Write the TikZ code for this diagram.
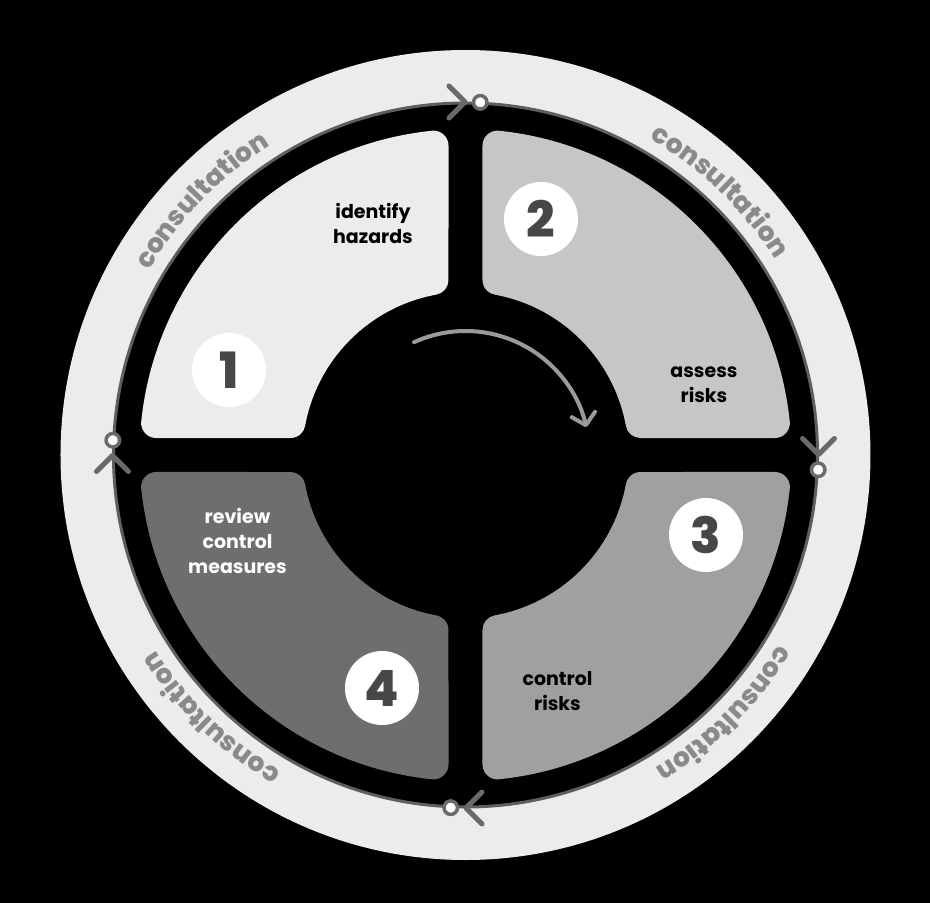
\documentclass[tikz,border=0pt]{standalone}
\usepackage{fontspec}
\setmainfont{Poppins}
\newfontfamily\heavyfont{Poppins ExtraBold}
\usetikzlibrary{decorations.text,arrows.meta}
\definecolor{ringlight}{HTML}{ECECEC}
\definecolor{secA}{HTML}{ECECEC}
\definecolor{secB}{HTML}{C6C6C6}
\definecolor{secC}{HTML}{A0A0A0}
\definecolor{secD}{HTML}{6E6E6E}
\definecolor{trackline}{HTML}{5E5E5E}
\definecolor{markgray}{HTML}{6A6A6A}
\definecolor{consgray}{HTML}{8A8A8A}
\definecolor{digitgray}{HTML}{474747}
\definecolor{arrowgray}{HTML}{9A9A9A}
\newcommand\consfont{\color{consgray}\heavyfont\fontsize{26.5}{26.5}\selectfont}
\tikzset{
  sector/.style={fill=#1, draw=#1, line width=30pt, line join=round},
  pics/quarter/.style={code={
    \path[sector=#1] (32pt,175.10pt) -- (84.094:311pt)
      arc[start angle=84.094, end angle=5.906, radius=311pt]
      -- (175.10pt,32pt)
      arc[start angle=10.357, end angle=79.643, radius=178pt] -- cycle;}},
  numdisc/.style={circle, fill=white, minimum size=74pt, inner sep=0pt,
    text=digitgray, font=\heavyfont\fontsize{50}{50}\selectfont},
  steplabel/.style={align=center, font=\bfseries\fontsize{19}{25}\selectfont},
  chev/.style={draw=markgray, line width=5pt, line cap=round, line join=round},
  ringdot/.style={circle, fill=white, draw=markgray, line width=3.5pt,
    minimum size=13.5pt, inner sep=0pt},
  ringtext/.style={decorate, decoration={text along path, text align=center,
    text={|\consfont|consultation}}},
}
\begin{document}
\begin{tikzpicture}[x=1pt,y=1pt]
  \useasboundingbox (-465.5,-448) rectangle (464.5,455);
  \fill[black] (-465.5,-448) rectangle (464.5,455);
  % outer ring
  \fill[ringlight] (0,0) circle[radius=405pt];
  \fill[black] (0,0) circle[radius=352pt];
  \draw[trackline, line width=3pt] (0,0) circle[radius=352pt];
  % sectors
  \pic[rotate=90] at (0,0) {quarter=secA};
  \pic at (0,0) {quarter=secB};
  \pic[rotate=-90] at (0,0) {quarter=secC};
  \pic[rotate=180] at (0,0) {quarter=secD};
  % consultation texts
  \path[ringtext] (166:366pt) arc[start angle=166, end angle=106, radius=366pt];
  \path[ringtext] (76:366pt) arc[start angle=76, end angle=16, radius=366pt];
  \path[ringtext] (-15:366pt) arc[start angle=-15, end angle=-75, radius=366pt];
  \path[ringtext] (-104:366pt) arc[start angle=-104, end angle=-164, radius=366pt];
  % chevrons and dots on the ring
  \foreach \a in {90,0,-90,180} {
    \begin{scope}[rotate=\a-90]
      \draw[chev] (-16.5pt,369pt) -- (-0.5pt,353pt) -- (-16.5pt,337pt);
      \node[ringdot] (dot\a) at (87.6:353pt) {};
    \end{scope}
  }
  % centre arrow
  \draw[arrowgray, line width=4pt, line cap=round,
    -{Straight Barb[length=11pt,width=24pt,line cap=round,line join=round]}]
    (114.5:124pt) arc[start angle=114.5, end angle=13, radius=124pt];
  % number discs
  \node[numdisc] (n1) at (-236.5,85) {1};
  \node[numdisc] (n2) at (75.5,236) {2};
  \node[numdisc] (n3) at (240.5,-80) {3};
  \node[numdisc] (n4) at (-83.5,-233) {4};
  % labels
  \node[steplabel] (l1) at (-92.5,232) {identify\\hazards};
  \node[steplabel] (l2) at (238.5,70) {assess\\risks};
  \node[steplabel, text=white] (l4) at (-228,-86) {review\\control\\measures};
  \node[steplabel] (l3) at (92,-236) {control\\risks};
\end{tikzpicture}
\end{document}
